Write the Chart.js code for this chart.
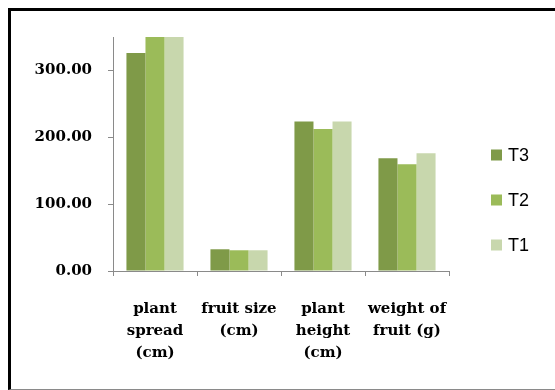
<!DOCTYPE html>
<html>
<head>
<meta charset="utf-8">
<script src="https://cdn.jsdelivr.net/npm/chart.js@4/dist/chart.umd.min.js"></script>
<style>
  html, body { margin: 0; padding: 0; background: #fff; }
  #wrap { position: relative; width: 555px; height: 390px; overflow: hidden; }
  #frame {
    position: absolute; left: 8px; top: 8px; width: 620px; height: 382px;
    box-sizing: border-box;
    border-top: 3px solid #000; border-left: 3px solid #000; border-bottom: 1px solid #8a8a8a;
  }
  #c { position: absolute; left: 0; top: 0; }
</style>
</head>
<body>
<div id="wrap">
  <div id="frame"></div>
  <canvas id="c" width="555" height="390"></canvas>
</div>
<script>
// Measured traits, grouped by treatment
const categories = [
  ["plant", "spread", "(cm)"],
  ["fruit size", "(cm)"],
  ["plant", "height", "(cm)"],
  ["weight of", "fruit (g)"]
];
const seriesNames = ["T3", "T2", "T1"];
const t3Values = [326, 32.5, 223.5, 168.5];
const t2Values = [350, 31, 212.5, 159.5];
const t1Values = [350, 31, 223.5, 176];
const seriesColors = ["#7f9a48", "#9bbb59", "#c8d7ad"];

// Right-side legend, one row per series
const sideLegend = {
  id: 'sideLegend',
  afterDraw(chart) {
    const ctx = chart.ctx;
    const area = chart.chartArea;
    const x0 = area.right + 42;
    const yStart = area.top + 118;
    const gap = 45;
    ctx.save();
    ctx.font = '18px "Liberation Sans", Arial, sans-serif';
    ctx.textBaseline = 'middle';
    ctx.textAlign = 'left';
    chart.data.datasets.forEach((ds, i) => {
      const cy = yStart + i * gap;
      ctx.fillStyle = ds.backgroundColor;
      ctx.fillRect(x0, cy - 5.5, 11, 11);
      ctx.fillStyle = '#000';
      ctx.fillText(ds.label, x0 + 17, cy + 1);
    });
    ctx.restore();
  }
};

const valueSets = [t3Values, t2Values, t1Values];

new Chart(document.getElementById('c'), {
  type: 'bar',
  data: {
    labels: categories,
    datasets: seriesNames.map((name, i) => ({
      label: name,
      data: valueSets[i],
      backgroundColor: seriesColors[i],
      borderWidth: 0,
      barPercentage: 1.0,
      categoryPercentage: 0.68
    }))
  },
  options: {
    responsive: false,
    animation: false,
    devicePixelRatio: 1,
    layout: { padding: { top: 37, right: 106, bottom: 0, left: 0 } },
    plugins: {
      legend: { display: false },
      tooltip: { enabled: false }
    },
    scales: {
      x: {
        offset: true,
        grid: {
          display: true, drawOnChartArea: false, drawTicks: true,
          tickLength: 5, color: '#8a8a8a', offset: true
        },
        border: { display: true, color: '#8a8a8a', width: 1 },
        ticks: {
          color: '#000',
          font: { family: '"DejaVu Serif", serif', size: 15, weight: 'bold', lineHeight: 1.47 },
          padding: 22,
          maxRotation: 0, autoSkip: false
        },
        afterFit(scale) { scale.height = 119; }
      },
      y: {
        min: 0, max: 350,
        grid: {
          display: true, drawOnChartArea: false, drawTicks: true,
          tickLength: 5, color: '#8a8a8a'
        },
        border: { display: true, color: '#8a8a8a', width: 1 },
        ticks: {
          stepSize: 100,
          includeBounds: false,
          color: '#000',
          padding: 16,
          font: { family: '"DejaVu Serif", serif', size: 15, weight: 'bold' },
          callback: v => v.toFixed(2)
        },
        afterFit(scale) { scale.width = 113; }
      }
    }
  },
  plugins: [sideLegend]
});
</script>
</body>
</html>
